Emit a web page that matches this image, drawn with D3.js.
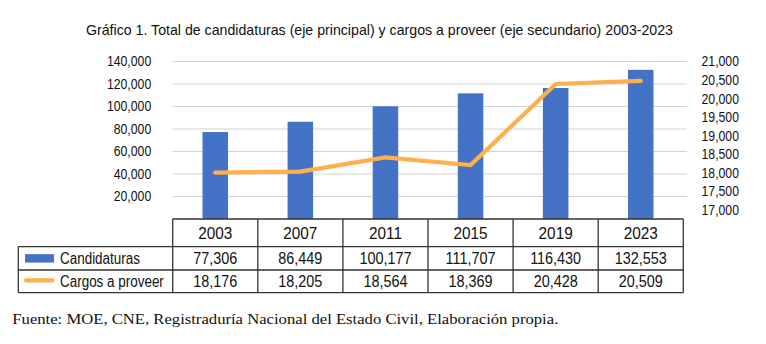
<!DOCTYPE html>
<html><head><meta charset="utf-8">
<script src="https://cdn.jsdelivr.net/npm/d3@7"></script>
<style>
html,body{margin:0;padding:0;background:#fff;}
svg{display:block;}
.sans{font-family:"Liberation Sans Narrow","Arial Narrow","Liberation Sans",Arial,sans-serif;}
</style>
</head><body>
<svg id="chart" width="766" height="344"></svg>
<script>
const title = "Gráfico 1. Total de candidaturas (eje principal) y cargos a proveer (eje secundario) 2003-2023";
const source = "Fuente: MOE, CNE, Registraduría Nacional del Estado Civil, Elaboración propia.";
const years = ["2003","2007","2011","2015","2019","2023"];
const seriesNames = ["Candidaturas","Cargos a proveer"];
const candidaturas = [77306, 86449, 100177, 111707, 116430, 132553];
const cargos = [18176, 18205, 18564, 18369, 20428, 20509];
const leftTicks = [20000, 40000, 60000, 80000, 100000, 120000, 140000];
const rightTicks = [17000, 17500, 18000, 18500, 19000, 19500, 20000, 20500, 21000];

const svg = d3.select("#chart");
const fmt = d3.format(",");
const blue = "#4472C4", orange = "#FFB04C", grid = "#d3d3d3", border = "#333";

// emulate a condensed face: shrink the natural width of each text by a factor
function condense(sel, factor) {
  sel.each(function () {
    const w = this.getComputedTextLength();
    d3.select(this).attr("textLength", w * factor).attr("lengthAdjust", "spacingAndGlyphs");
  });
}

const plotL = 172.7, plotR = 683.3, plotT = 61.5, plotB = 219;
const rowY = [219, 246.7, 270, 292.7];
const legendL = 18.3;

const xCol = d3.scaleBand().domain(years).range([plotL, plotR]);
const xBar = d3.scaleBand().domain(years).range([plotL, plotR]).paddingInner(0.7).paddingOuter(0.35);
const yL = d3.scaleLinear().domain([0, 140000]).range([plotB, plotT]);
const yR = d3.scaleLinear().domain([17000, 21000]).range([plotB, plotT]);
const yRAxis = d3.scaleLinear().domain([17000, 21000]).range([210, plotT]);

// title
svg.append("text").attr("class","sans").attr("x", 86).attr("y", 35)
  .attr("font-size", 15).attr("fill", "#111")
  .attr("textLength", 587).attr("lengthAdjust", "spacingAndGlyphs")
  .text(title);

// gridlines
svg.append("g").selectAll("line").data(leftTicks).join("line")
  .attr("x1", plotL).attr("x2", 687)
  .attr("y1", d => yL(d)).attr("y2", d => yL(d))
  .attr("stroke", grid).attr("stroke-width", 1.2);

// left axis
const gL = svg.append("g").attr("transform", `translate(${plotL},0)`)
  .call(d3.axisLeft(yL).tickValues(leftTicks).tickFormat(fmt).tickSize(0).tickPadding(21.5));
gL.select(".domain").remove();
gL.selectAll("text").attr("class","sans").attr("font-size", 14).attr("fill", "#111").call(condense, 0.875);

// right axis
const gR = svg.append("g").attr("transform", `translate(687,0)`)
  .call(d3.axisRight(yRAxis).tickValues(rightTicks).tickFormat(fmt).tickSize(0).tickPadding(14.5));
gR.select(".domain").remove();
gR.selectAll("text").attr("class","sans").attr("font-size", 14).attr("fill", "#111").call(condense, 0.875);

// bars
svg.append("g").selectAll("rect").data(years).join("rect")
  .attr("x", d => xBar(d)).attr("width", xBar.bandwidth())
  .attr("y", (d, i) => yL(candidaturas[i]))
  .attr("height", (d, i) => plotB - yL(candidaturas[i]))
  .attr("fill", blue);

// line
const line = d3.line().x((d, i) => xCol(years[i]) + xCol.bandwidth() / 2).y(d => yR(d));
svg.append("path").datum(cargos).attr("d", line)
  .attr("fill", "none").attr("stroke", orange).attr("stroke-width", 4.2)
  .attr("stroke-linecap", "round").attr("stroke-linejoin", "miter");

// table
const tb = svg.append("g");
const hLines = [
  [plotL, plotR, rowY[0]], [legendL, plotR, rowY[1]], [legendL, plotR, rowY[2]], [legendL, plotR, rowY[3]]
];
tb.selectAll("line.h").data(hLines).join("line").attr("class","h")
  .attr("x1", d => d[0]).attr("x2", d => d[1]).attr("y1", d => d[2]).attr("y2", d => d[2])
  .attr("stroke", border).attr("stroke-width", 1.3);
const colEdges = years.map(y => xCol(y)).concat([plotR]);
tb.selectAll("line.v").data(colEdges).join("line").attr("class","v")
  .attr("x1", d => d).attr("x2", d => d).attr("y1", rowY[0]).attr("y2", rowY[3])
  .attr("stroke", border).attr("stroke-width", 1.3);
tb.append("line").attr("x1", legendL).attr("x2", legendL).attr("y1", rowY[1]).attr("y2", rowY[3])
  .attr("stroke", border).attr("stroke-width", 1.3);

// header years
tb.selectAll("text.yr").data(years).join("text").attr("class","sans yr")
  .attr("x", d => xCol(d) + xCol.bandwidth() / 2).attr("y", (rowY[0] + rowY[1]) / 2)
  .attr("dy", "0.36em").attr("text-anchor", "middle").attr("font-size", 16.5).attr("fill", "#111")
  .text(d => d).call(condense, 0.93);
// values
const rows = [candidaturas, cargos];
rows.forEach((vals, r) => {
  tb.selectAll(null).data(vals).join("text").attr("class","sans")
    .attr("x", (d, i) => xCol(years[i]) + xCol.bandwidth() / 2)
    .attr("y", (rowY[r + 1] + rowY[r + 2]) / 2)
    .attr("dy", "0.36em").attr("text-anchor", "middle").attr("font-size", 16).attr("fill", "#111")
    .text(d => fmt(d)).call(condense, 0.9);
});
// legend cells
const legCy = [(rowY[1] + rowY[2]) / 2, (rowY[2] + rowY[3]) / 2];
tb.append("rect").attr("x", 25).attr("y", legCy[0] - 4.2).attr("width", 29).attr("height", 8.4).attr("fill", blue);
tb.append("line").attr("x1", 26).attr("x2", 52.5).attr("y1", legCy[1] - 1).attr("y2", legCy[1] - 1)
  .attr("stroke", orange).attr("stroke-width", 4.2).attr("stroke-linecap", "round");
tb.selectAll("text.leg").data(seriesNames).join("text").attr("class","sans leg")
  .attr("x", 60).attr("y", (d, i) => legCy[i]).attr("dy", "0.33em")
  .attr("font-size", 16).attr("fill", "#111").text(d => d).call(condense, 0.84);

// source
svg.append("text").attr("x", 12.3).attr("y", 324)
  .attr("font-family", "'Liberation Serif','Times New Roman',serif").attr("font-size", 14).attr("fill", "#111")
  .attr("textLength", 546).attr("lengthAdjust", "spacingAndGlyphs")
  .text(source);
</script>
</body></html>
